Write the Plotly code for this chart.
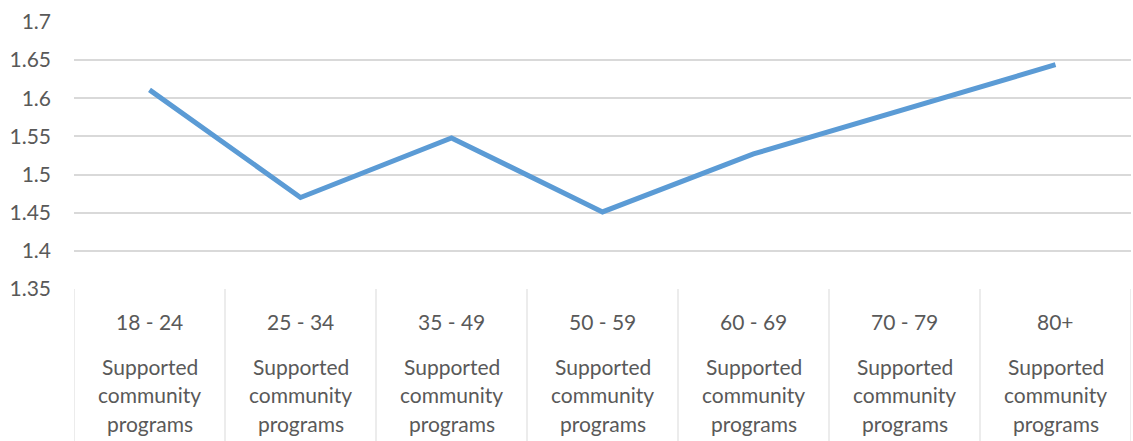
import plotly.graph_objects as go

age_groups = ["18 - 24", "25 - 34", "35 - 49", "50 - 59", "60 - 69", "70 - 79", "80+"]
sub_label = "Supported community programs"
values = [1.611, 1.470, 1.548, 1.451, 1.527, 1.585, 1.644]
y_ticks = [1.35, 1.4, 1.45, 1.5, 1.55, 1.6, 1.65, 1.7]
y_tick_text = ["1.35", "1.4", "1.45", "1.5", "1.55", "1.6", "1.65", "1.7"]

W, H = 1133, 441
ml, mr, mt, mb = 74, 2, 22, 152
plot_h = H - mt - mb
font_family = "Lato, 'Open Sans', sans-serif"
txt_color = "#595959"
grid_color = "#d9d9d9"
fs = 21

xs = list(range(len(age_groups)))
fig = go.Figure()
fig.add_trace(go.Scatter(
    x=xs, y=values, mode="lines",
    line=dict(color="#5B9BD5", width=5),
    hoverinfo="skip", showlegend=False,
))

annotations = []
shapes = []
def py(px_from_top):
    # convert pixel offset from top of plot area to paper coordinate
    return 1 - px_from_top / plot_h

for i, g in enumerate(age_groups):
    annotations.append(dict(x=i, y=py(321 - mt), xref="x", yref="paper", text=g,
                            showarrow=False, font=dict(size=fs, color=txt_color, family=font_family),
                            xanchor="center", yanchor="middle"))
    for j, w in enumerate(sub_label.split(" ")):
        annotations.append(dict(x=i, y=py(366 - mt + j * 28.5), xref="x", yref="paper", text=w,
                                showarrow=False, font=dict(size=fs, color=txt_color, family=font_family),
                                xanchor="center", yanchor="middle"))
for i in range(len(age_groups) + 1):
    shapes.append(dict(type="line", xref="x", yref="paper", x0=i - 0.5, x1=i - 0.5,
                       y0=0, y1=py(H - mt + 5), line=dict(color=grid_color, width=1)))

fig.update_layout(
    width=W, height=H,
    margin=dict(l=ml, r=mr, t=mt, b=mb, pad=0),
    paper_bgcolor="white", plot_bgcolor="white",
    xaxis=dict(range=[-0.5, len(age_groups) - 0.5], showticklabels=False, showgrid=False,
               zeroline=False, showline=False, fixedrange=True),
    yaxis=dict(range=[1.35, 1.7], tickvals=y_ticks, ticktext=y_tick_text,
               showgrid=True, gridcolor=grid_color, gridwidth=1.5, zeroline=False,
               showline=False, ticks="", ticklabelstandoff=22,
               tickfont=dict(size=fs, color=txt_color, family=font_family)),
    annotations=annotations, shapes=shapes,
)
fig.write_html("out.html")
